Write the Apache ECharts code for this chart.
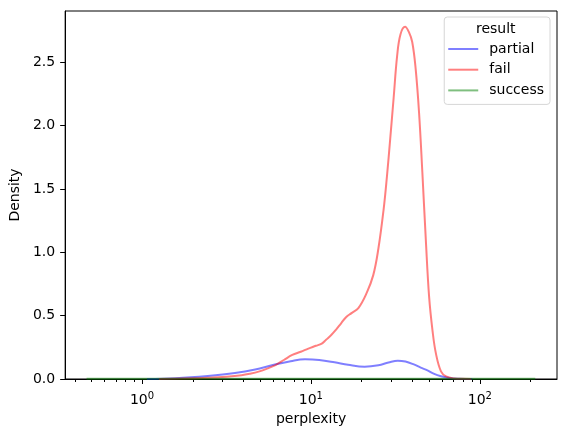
<!DOCTYPE html>
<html>
<head>
<meta charset="utf-8">
<script src="https://cdn.jsdelivr.net/npm/echarts@6/dist/echarts.min.js"></script>
<style>
  html, body { margin: 0; padding: 0; background: #fff; }
  #main { width: 567px; height: 437px; }
</style>
</head>
<body>
<div id="main"></div>
<script>
var dom = document.getElementById('main');
var myChart = echarts.init(dom, null, { renderer: 'canvas' });

// KDE curves (perplexity, density)
var partialX = [1.07, 1.58, 2.45, 3.55, 4.68, 6.03, 7.59, 9.23, 11.2, 13.8, 16.6, 20.8, 25.1, 28.8, 32.7, 36.3, 40.7, 44.7, 49.0, 53.7, 58.9, 66.1, 75.9, 90.2];
var partialY = [0.000, 0.006, 0.024, 0.047, 0.075, 0.112, 0.140, 0.155, 0.150, 0.132, 0.112, 0.097, 0.108, 0.130, 0.145, 0.138, 0.115, 0.090, 0.068, 0.040, 0.022, 0.008, 0.002, 0.000];

var failX = [1.26, 1.78, 2.51, 3.16, 3.89, 4.37, 4.90, 5.50, 6.17, 6.92, 7.76, 8.71, 9.66, 10.7, 11.6, 12.3, 13.2, 14.1, 15.1, 16.2, 17.4, 19.1, 21.4, 23.4, 25.1, 26.9, 28.2, 29.5, 30.9, 32.4, 33.9, 36.1, 38.0, 39.8, 41.7, 43.7, 45.7, 47.9, 50.1, 52.5, 55.0, 58.9, 63.1, 70.8, 79.4, 89.1];
var failY = [0.000, 0.003, 0.010, 0.018, 0.030, 0.042, 0.058, 0.082, 0.110, 0.150, 0.190, 0.215, 0.240, 0.262, 0.280, 0.310, 0.347, 0.390, 0.440, 0.490, 0.520, 0.560, 0.680, 0.820, 1.030, 1.330, 1.600, 1.900, 2.220, 2.550, 2.720, 2.780, 2.740, 2.660, 2.450, 2.100, 1.630, 1.100, 0.650, 0.380, 0.200, 0.060, 0.020, 0.004, 0.001, 0.000];

var successX = [0.47, 1, 3, 10, 30, 100, 213];
var successY = [0.001, 0.001, 0.001, 0.001, 0.001, 0.001, 0.001];

var majorTicks = [1, 10, 100];
var minorTicks = [0.4, 0.5, 0.6, 0.7, 0.8, 0.9, 2, 3, 4, 5, 6, 7, 8, 9, 20, 30, 40, 50, 60, 70, 80, 90, 200];
var yTicks = [0, 0.5, 1.0, 1.5, 2.0, 2.5];

function pairs(xs, ys) {
    return xs.map(function (x, i) { return [x, ys[i]]; });
}

var font = 'DejaVu Sans';

var option = {
    animation: false,
    textStyle: { fontFamily: font },
    grid: {
        left: 62, right: 10, top: 11, bottom: 58,
        show: true, borderColor: '#000', borderWidth: 1
    },
    legend: {
        right: 17,
        top: 17,
        orient: 'vertical',
        icon: 'rect',
        padding: [25, 6, 7, 4],
        itemWidth: 30,
        itemHeight: 2,
        itemGap: 6.7,
        borderColor: '#d6d6d6',
        borderWidth: 1,
        borderRadius: 3,
        backgroundColor: '#fff',
        textStyle: { fontFamily: font, fontSize: 14, lineHeight: 14, color: '#000', padding: [0, 0, 0, 6] },
        data: ['partial', 'fail', 'success']
    },
    graphic: [{
        type: 'text',
        z: 100,
        left: 476,
        top: 22,
        style: { text: 'result', fontFamily: font, fontSize: 14, fill: '#000' }
    }],
    xAxis: [{
        type: 'log',
        logBase: 10,
        min: 0.351,
        max: 286.4,
        name: 'perplexity',
        nameLocation: 'middle',
        nameGap: 33,
        nameTextStyle: { fontFamily: font, fontSize: 14, color: '#000' },
        axisLine: { lineStyle: { color: '#000', width: 1 } },
        axisTick: { customValues: majorTicks, length: 5, lineStyle: { color: '#000' } },
        axisLabel: {
            customValues: majorTicks,
            margin: 12,
            color: '#000',
            formatter: function (v) {
                return '{b|10}{sup|' + Math.round(Math.log10(v)) + '}';
            },
            rich: {
                b: { fontFamily: font, fontSize: 14, lineHeight: 18, color: '#000' },
                sup: { fontFamily: font, fontSize: 10, lineHeight: 10, verticalAlign: 'top', color: '#000' }
            }
        },
        splitLine: { show: false },
        minorTick: { show: false }
    }, {
        type: 'log',
        logBase: 10,
        min: 0.351,
        max: 286.4,
        position: 'bottom',
        axisLine: { show: false },
        axisTick: { customValues: minorTicks, length: 3, lineStyle: { color: '#000' } },
        axisLabel: { show: false },
        splitLine: { show: false }
    }],
    yAxis: {
        type: 'value',
        min: 0,
        max: 2.905,
        interval: 0.5,
        name: 'Density',
        nameLocation: 'middle',
        nameGap: 37,
        nameTextStyle: { fontFamily: font, fontSize: 14, color: '#000' },
        axisLine: { show: true, lineStyle: { color: '#000', width: 1 } },
        axisTick: { show: true, customValues: yTicks, length: 5, lineStyle: { color: '#000' } },
        axisLabel: {
            customValues: yTicks,
            margin: 10,
            fontFamily: font,
            fontSize: 14,
            color: '#000',
            formatter: function (v) { return v.toFixed(1); }
        },
        splitLine: { show: false }
    },
    series: [{
        name: 'partial',
        type: 'line',
        xAxisIndex: 0,
        smooth: 0.4,
        symbol: 'none',
        color: 'rgba(0,0,255,0.5)',
        lineStyle: { width: 2, color: 'rgba(0,0,255,0.5)' },
        data: pairs(partialX, partialY)
    }, {
        name: 'fail',
        type: 'line',
        xAxisIndex: 0,
        smooth: 0.4,
        symbol: 'none',
        color: 'rgba(255,0,0,0.5)',
        lineStyle: { width: 2, color: 'rgba(255,0,0,0.5)' },
        data: pairs(failX, failY)
    }, {
        name: 'success',
        type: 'line',
        xAxisIndex: 0,
        smooth: 0.4,
        symbol: 'none',
        color: 'rgba(0,128,0,0.5)',
        lineStyle: { width: 2, color: 'rgba(0,128,0,0.5)' },
        data: pairs(successX, successY)
    }]
};

myChart.setOption(option);
window.addEventListener('resize', myChart.resize);
</script>
</body>
</html>
